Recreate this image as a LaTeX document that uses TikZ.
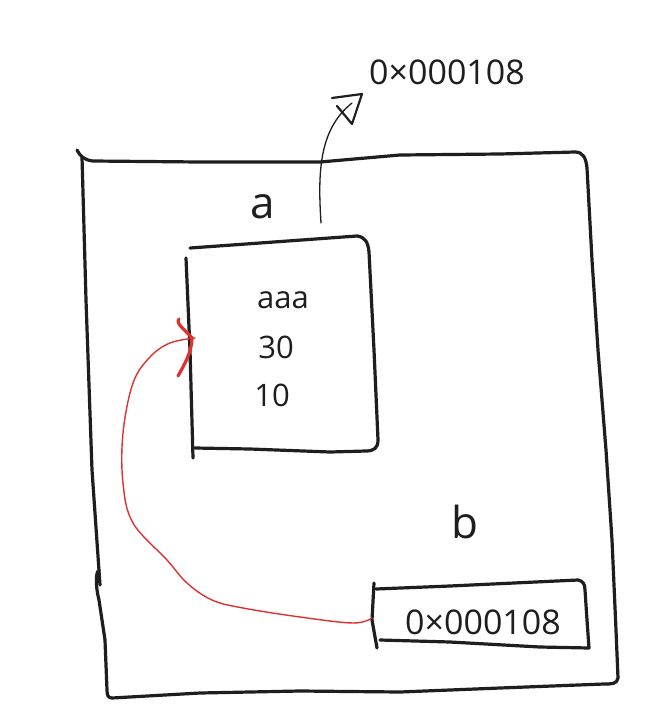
\documentclass[tikz,border=0pt]{standalone}
\usepackage{fontspec}
\setmainfont{Open Sans}
\definecolor{sketchred}{RGB}{224,49,49}
\definecolor{inkc}{RGB}{30,30,30}
\begin{document}
\begin{tikzpicture}[x={(1pt,0)},y={(0,-1pt)},
  ink/.style={draw=inkc,line width=3.2pt,line cap=round,line join=round},
  thin/.style={draw=inkc,line width=1.3pt,line cap=round,line join=round},
  redline/.style={draw=sketchred,line width=1.4pt,line cap=round},
  redtip/.style={draw=sketchred,line width=3.2pt,line cap=round},
  big/.style={font=\fontsize{44}{48}\selectfont,text=inkc,inner sep=0},
  mid/.style={font=\fontsize{31}{34}\selectfont,text=inkc,inner sep=0},
  addr/.style={font=\fontsize{34}{38}\selectfont,text=inkc,inner sep=0},
  holder/.style={draw=none,inner sep=0}]
\useasboundingbox[fill=white] (0,0) rectangle (661,721);

% outer frame
\draw[ink] (77,150) .. controls (80,156) and (84,160) .. (93,161) -- (200,162) -- (320,162) -- (400,155) -- (500,154) -- (575,152)
  .. controls (583,152) and (586,158) .. (587,168) -- (592,260) -- (598,350) -- (606,450) -- (612,540) -- (616,630) -- (618,678)
  .. controls (617,684) and (612,684) .. (604,684) -- (500,688) -- (400,692) -- (300,691) -- (200,693) -- (112,698)
  .. controls (108,698) and (107,695) .. (107,690) -- (105,640) -- (99,600) .. controls (95,585) and (96,570) .. (99,571);
\draw[ink] (82,157) -- (86,300) -- (92,470) -- (100,585);

% box a
\node[holder,minimum width=185pt,minimum height=210pt] (boxA) at (282,347) {};
\draw[ink] (190,248) -- (260,243) -- (357,236) .. controls (365,237) and (368,242) .. (369,252) -- (374,350) -- (378,440)
  .. controls (378,448) and (374,451) .. (366,451) -- (330,452) -- (250,449) -- (195,448);
\draw[ink] (186,258) -- (190,350) -- (193,458);
\node[big] (la) at (263,207) {a};
\node[mid] (v1) at (283,300) {aaa};
\node[mid] (v2) at (276,347) {30};
\node[mid] (v3) at (272,395) {10};

% box b
\node[holder,minimum width=212pt,minimum height=62pt] (boxB) at (480,615) {};
\draw[ink] (376,589) -- (450,586) -- (578,580) .. controls (583,581) and (585,584) .. (585,590) -- (587,620) -- (589,648)
  -- (540,647) -- (450,642) -- (380,640);
\draw[ink] (374,583) -- (372,620) -- (377,648);
\node[big] (lb) at (465,522) {b};
\node[addr] (pb) at (483,622) {0×000108};

% pointer from a outward
\node[addr] (addrA) at (447,72) {0×000108};
\coordinate (aTop) at (321,223);
\coordinate (tipA) at (362,94);
\draw[thin] (aTop) .. controls (318,175) and (318,130) .. (352,103);
\draw[thin,line width=2.2pt] (332,98) -- (tipA) -- (352,124) -- (337,106);

% red reference from b to a
\coordinate (bStart) at (372,618);
\coordinate (aEnd) at (195,338);
\draw[redline] plot[smooth,tension=0.6] coordinates {(bStart) (353,623) (300,617) (243,608) (212,600) (187,583) (167,560) (133,523) (123,483) (123,433) (133,383) (150,357) (170,343) (aEnd)};
\draw[redtip] (179,319) .. controls (175,324) and (186,330) .. (192,338) .. controls (192,352) and (184,365) .. (178,376);
\end{tikzpicture}
\end{document}
